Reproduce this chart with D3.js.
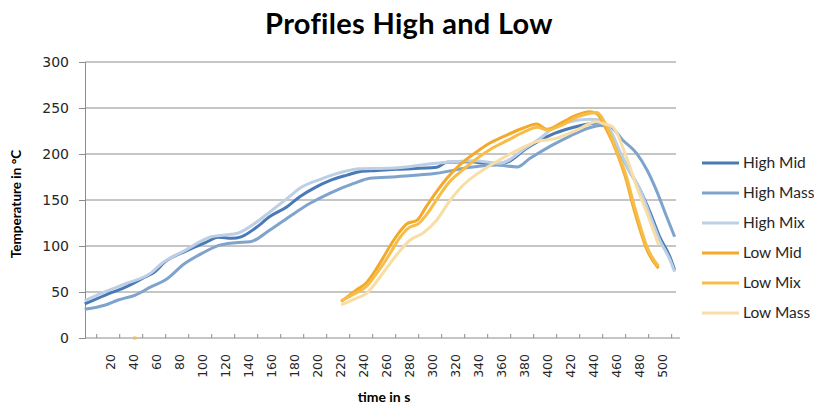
<!DOCTYPE html>
<html>
<head>
<meta charset="utf-8">
<script src="https://cdn.jsdelivr.net/npm/d3@7"></script>
<style>
  body { margin: 0; background: #fff; }
  svg { display: block; }
</style>
</head>
<body>
<div id="container"></div>
<script>
/* CONSTANTS AND GLOBALS */
const width = 814,
  height = 405,
  plot = {left: 85, right: 676, top: 62, bottom: 338};

/* DATA (time in s, temperature in °C) */
const seriesNames = ["High Mid", "High Mass", "High Mix", "Low Mid", "Low Mix", "Low Mass"];

const highMid = [[-2,37],[16,46.7],[33,55],[50,66],[59,72],[68,83],[85,94],[103,103.6],[114,109.4],
  [126,108.3],[134,110],[146,119],[159,132],[174,142.7],[185,153.6],[197,162.7],[211,171],[226,177],
  [237,180.8],[252,182],[269,183.3],[304,185.5],[313,191],[333,191.6],[353,189],[365,191],[382,206],
  [403,220.6],[420,228],[437,233],[446,234],[455,224],[463,202.5],[472,181],[481,161],[490,135.5],
  [498,110],[507,88],[511,74]];

const highMass = [[-2,31.2],[16,35.9],[27,41.3],[42,46.7],[56,55.8],[68,63],[85,81],[100,92],[114,100.4],
  [129,103.6],[142,104.7],[159,117.4],[176,131.9],[194,146.4],[211,157.3],[232,168],[246,173.6],
  [269,175.4],[304,179],[333,185.5],[356,188],[374,186],[385,195],[403,208.5],[420,219.5],[437,228.5],
  [446,231],[455,229.7],[466,215],[478,200.7],[487,182.6],[495,161],[504,132],[511,110]];

const highMix = [[-2,40.6],[16,50.4],[33,58.7],[56,71],[65,81],[85,95],[108,110],[120,112],[131,113.8],
  [146,124.7],[159,137],[176,153.6],[185,162.7],[203,172.5],[220,179.7],[237,184],[263,184.4],
  [304,190],[336,192.7],[359,190],[382,207],[395,218],[403,226],[420,235],[437,237.7],[446,237],
  [455,226],[463,204],[472,181],[481,161],[490,132],[498,106.5],[507,85],[511,72]];

const lowMid = [[221,39.5],[234,52],[243,60],[250,72],[257,86],[263,99],[272,115.6],[278,124],[287,128],
  [295,142.7],[304,159],[313,173.6],[324,188],[339,202.5],[350,211.6],[365,220.6],[379,228],[391,232.6],
  [400,226.8],[414,235],[426,242.4],[437,246],[443,244],[452,226],[461,200.7],[469,171.7],[475,142.7],
  [481,117.4],[487,95.6],[497,75.8]];

const lowMix = [[221,40.5],[234,49],[243,56],[250,67],[258,81],[264,93],[272,109],[280,120],[288,124],[297,137],
  [306,154],[314,168],[326,182],[340,196],[352,206],[366,215],[380,224],[392,229],[400,226],[414,232],
  [426,240],[437,244],[443,245],[452,230],[460,205],[469,176],[475,148],[481,122],[487,99],[497,78]];

// short stray piece of Low Mix sitting on the axis
const lowMixStray = [[40,0],[43,0]];

const lowMass = [[221,36],[234,43],[243,48.5],[255,66.6],[269,90],[281,106.5],[292,113.8],[304,128],
  [316,150],[327,166],[342,180.8],[356,191.6],[374,204],[391,213.4],[408,217],[426,226],[443,235],
  [449,233],[457,229.7],[469,197],[478,164.5],[487,135.5],[497,101]];

const yTicks = [0, 50, 100, 150, 200, 250, 300];
const xLabels = d3.range(20, 501, 20);   // 20 ... 500
const xTickMarks = d3.range(8, 509, 20); // tick marks sit between the labels

const colors = ["#4a7ab5", "#7ea3cc", "#bccfe4", "#f3aa2c", "#f6bd48", "#f8dea5"];

/* SCALES */
const xScale = d3.scaleLinear()
  .domain([-1.74, 512.2])
  .range([plot.left, plot.right]);

const yScale = d3.scaleLinear()
  .domain([0, 300])
  .range([plot.bottom, plot.top]);

/* HTML ELEMENTS */
const svg = d3.select("#container")
  .append("svg")
  .attr("width", width)
  .attr("height", height);

//Gridlines
svg.append("g")
  .selectAll("line")
  .data(yTicks.filter(d => d > 0))
  .join("line")
  .attr("x1", plot.left)
  .attr("x2", plot.right)
  .attr("y1", d => yScale(d))
  .attr("y2", d => yScale(d))
  .attr("stroke", "#8c8c8c")
  .attr("stroke-width", 1);

//Y Axis
const yAxis = d3.axisLeft(yScale)
  .tickValues(yTicks)
  .tickSize(6)
  .tickPadding(10);
const yG = svg.append("g")
  .attr("transform", `translate(${plot.left},0)`)
  .call(yAxis);
yG.selectAll("path, line").attr("stroke", "#8c8c8c");
yG.selectAll("text")
  .style("font-family", "DejaVu Sans, Verdana, sans-serif")
  .style("font-size", "14px")
  .attr("fill", "#262626");

//X Axis (labels)
const xAxis = d3.axisBottom(xScale)
  .tickValues(xLabels)
  .tickSize(0);
const xG = svg.append("g")
  .attr("transform", `translate(0,${plot.bottom})`)
  .call(xAxis);
xG.select(".domain").remove();
xG.selectAll("text")
  .attr("transform", "rotate(-90)")
  .attr("x", -16)
  .attr("y", 0)
  .attr("dy", "0.35em")
  .style("text-anchor", "end")
  .style("font-family", "DejaVu Sans, Verdana, sans-serif")
  .style("font-size", "12.5px")
  .attr("fill", "#262626");

//X Axis (line and inside tick marks)
const xTicksAxis = d3.axisBottom(xScale)
  .tickValues(xTickMarks)
  .tickSize(-4)
  .tickSizeOuter(0)
  .tickFormat("");
const xT = svg.append("g")
  .attr("transform", `translate(0,${plot.bottom})`)
  .call(xTicksAxis);
xT.select(".domain").attr("d", `M${plot.left},0H${plot.right + 4}`);
xT.selectAll("path, line").attr("stroke", "#8c8c8c");

//Lines
const line = d3.line()
  .x(d => xScale(d[0]))
  .y(d => yScale(d[1]))
  .curve(d3.curveMonotoneX);

const allSeries = [highMid, highMass, highMix, lowMid, lowMix, lowMass];

svg.append("g")
  .selectAll("path")
  .data(allSeries)
  .join("path")
  .attr("d", d => line(d))
  .attr("fill", "none")
  .attr("stroke", (d, i) => colors[i])
  .attr("stroke-width", 3)
  .attr("stroke-linejoin", "round");

svg.append("path")
  .attr("d", line(lowMixStray))
  .attr("fill", "none")
  .attr("stroke", colors[4])
  .attr("stroke-width", 3);

//Title
svg.append("text")
  .attr("x", 409)
  .attr("y", 34)
  .attr("text-anchor", "middle")
  .text("Profiles High and Low")
  .style("font-family", "Lato, sans-serif")
  .style("font-weight", "bold")
  .style("font-size", "29px")
  .style("letter-spacing", "0.3px")
  .style("fill", "black");

//Y Label
svg.append("text")
  .attr("x", -204)
  .attr("y", 21)
  .attr("transform", "rotate(-90)")
  .attr("text-anchor", "middle")
  .text("Temperature in °C")
  .style("font-family", "Lato, sans-serif")
  .style("font-weight", "bold")
  .style("font-size", "13.5px")
  .style("fill", "black");

//X Label
svg.append("text")
  .attr("x", 384)
  .attr("y", 402)
  .attr("text-anchor", "middle")
  .text("time in s")
  .style("font-family", "Lato, sans-serif")
  .style("font-weight", "bold")
  .style("font-size", "14px")
  .style("fill", "black");

//Legend
const legend = svg.append("g")
  .selectAll("g")
  .data(seriesNames)
  .join("g")
  .attr("transform", (d, i) => `translate(702,${163 + i * 30})`);

legend.append("line")
  .attr("x1", 0)
  .attr("x2", 37)
  .attr("stroke", (d, i) => colors[i])
  .attr("stroke-width", 3);

legend.append("text")
  .attr("x", 41)
  .attr("dy", "0.35em")
  .text(d => d)
  .style("font-family", "Lato, sans-serif")
  .style("font-size", "15.5px")
  .style("fill", "#262626");
</script>
</body>
</html>
